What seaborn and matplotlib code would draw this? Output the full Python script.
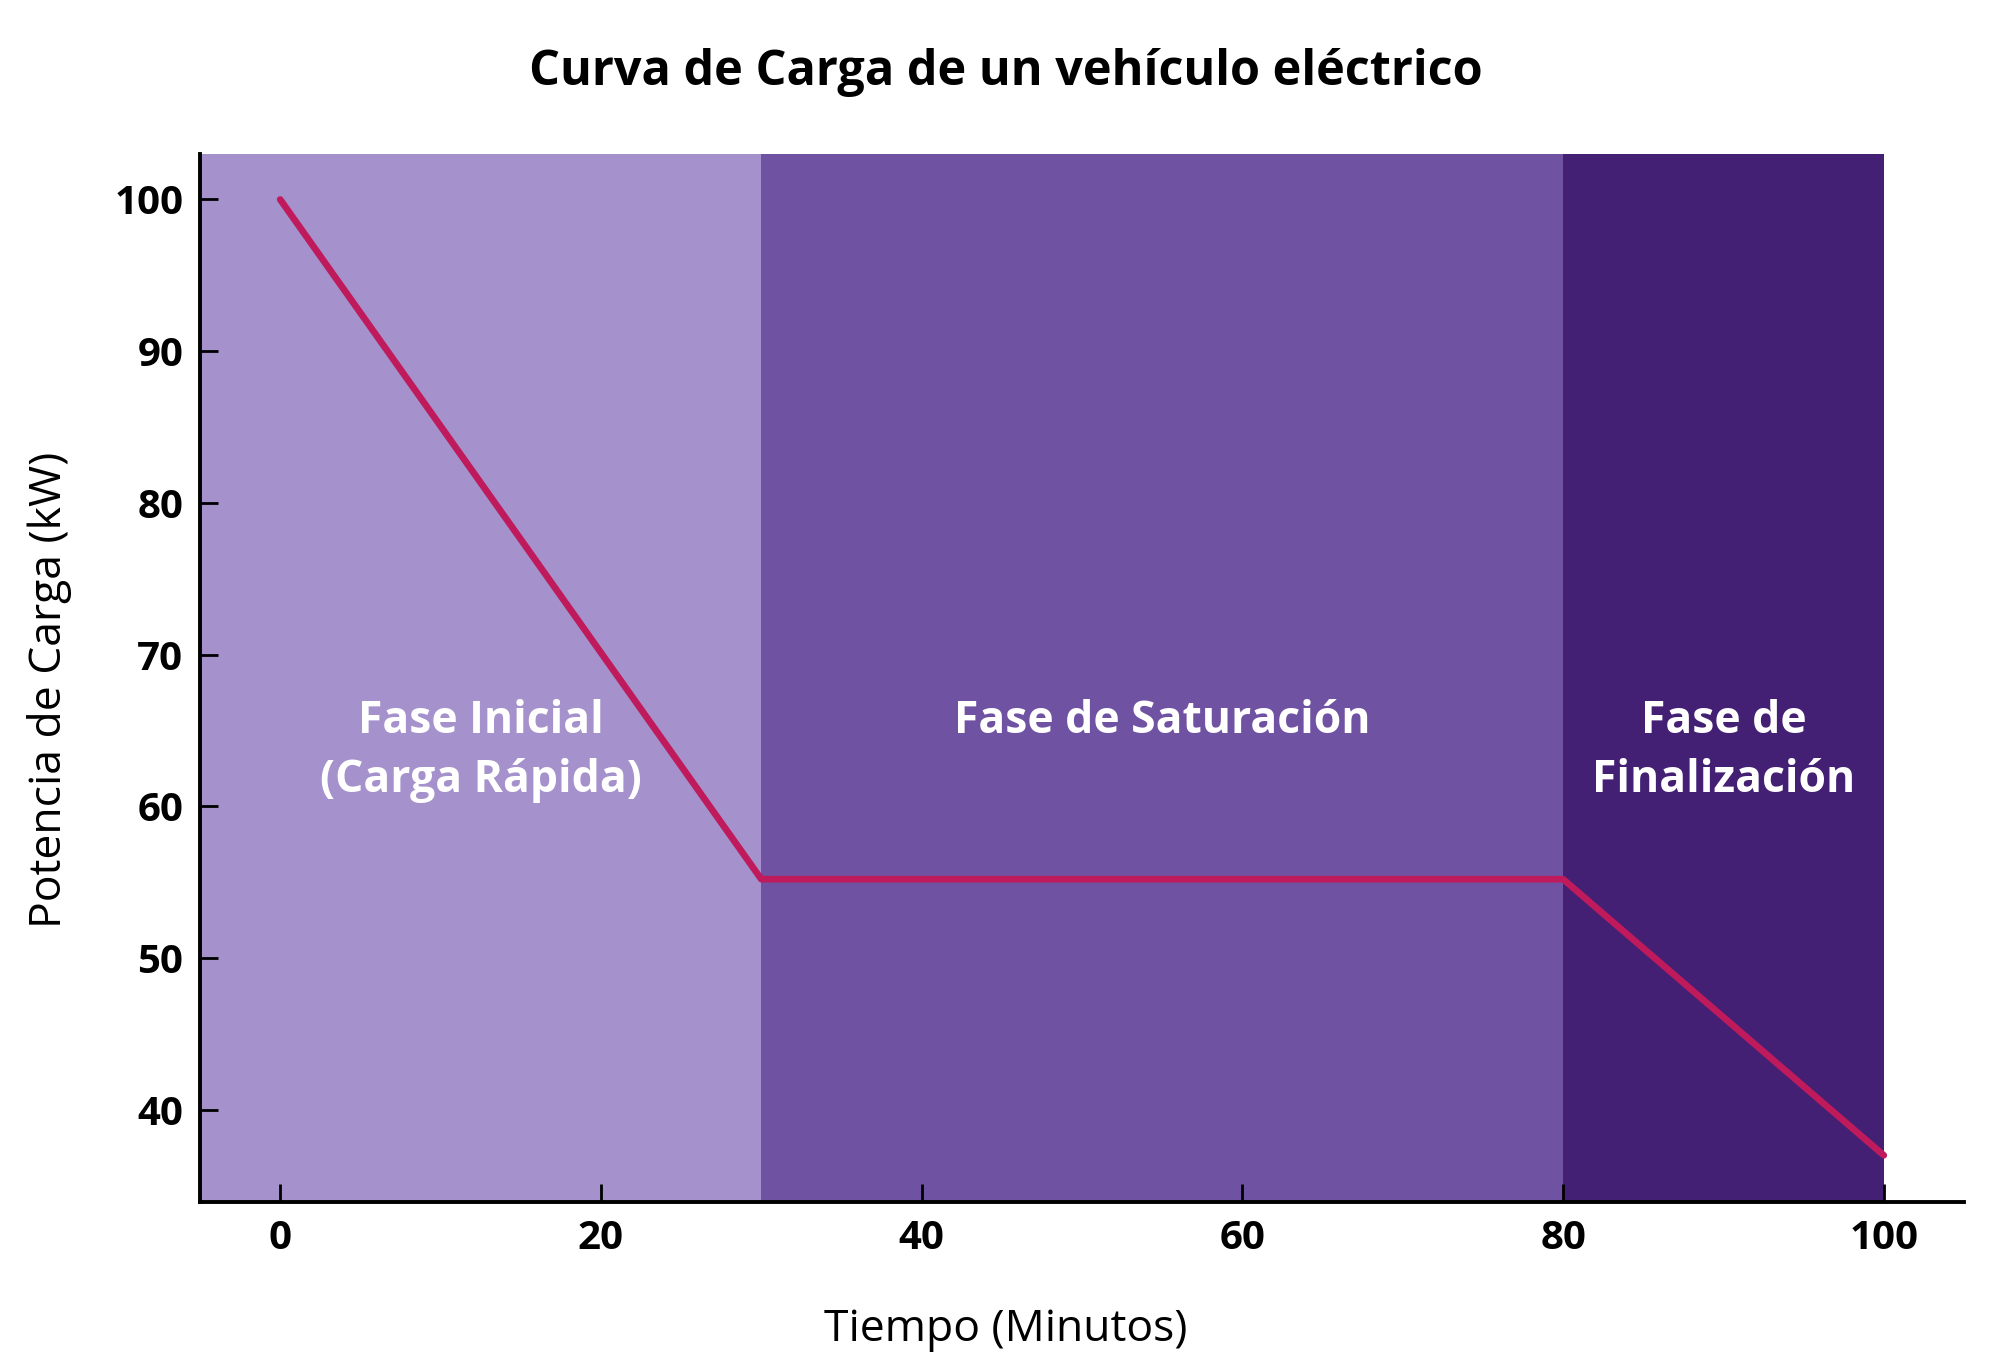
import pandas as pd
import seaborn as sns
import matplotlib.pyplot as plt

# Data
tiempo = [0, 30, 80, 100]
potencia = [100, 55.2, 55.2, 37.0]

fase_limites = [(-5, 30), (30, 80), (80, 100)]
fase_colores = ['#A591CB', '#7052A3', '#432074']
fase_textos = ['Fase Inicial\n(Carga Rápida)', 'Fase de Saturación', 'Fase de\nFinalización']

df = pd.DataFrame({'Tiempo': tiempo, 'Potencia': potencia})

sns.set_theme(style='ticks')
plt.rcParams['font.family'] = ['Open Sans', 'DejaVu Sans']
plt.rcParams['text.color'] = 'black'
plt.rcParams['axes.labelcolor'] = 'black'

fig, ax = plt.subplots(figsize=(20, 13.71), dpi=100)
fig.subplots_adjust(left=0.1, right=0.982, top=0.8877, bottom=0.123)

# Shaded phases
for (x0, x1), color, texto in zip(fase_limites, fase_colores, fase_textos):
    ax.axvspan(x0, x1, color=color, lw=0, zorder=0)
    ax.text((x0 + x1) / 2, 67.1, texto, ha='center', va='top', color='white',
            fontsize=32, fontweight='bold', linespacing=1.42)

sns.lineplot(data=df, x='Tiempo', y='Potencia', ax=ax, color='#BF1A5C', lw=4.8, zorder=3)

ax.set_xlim(-5, 105)
ax.set_ylim(33.9, 103.0)
ax.set_xticks([0, 20, 40, 60, 80, 100])
ax.set_yticks([40, 50, 60, 70, 80, 90, 100])

sns.despine(ax=ax)
for s in ['left', 'bottom']:
    ax.spines[s].set_linewidth(2.8)
    ax.spines[s].set_color('black')
ax.tick_params(direction='in', length=13, width=2, colors='black', labelsize=29)
ax.tick_params(axis='x', pad=12)
ax.tick_params(axis='y', pad=12)
for lbl in ax.get_xticklabels() + ax.get_yticklabels():
    lbl.set_fontweight('bold')

ax.set_xlabel('Tiempo (Minutos)', fontsize=32)
ax.set_ylabel('Potencia de Carga (kW)', fontsize=32)
ax.xaxis.set_label_coords(0.503, 0.046, transform=fig.transFigure)
ax.yaxis.set_label_coords(0.036, 0.497, transform=fig.transFigure)
fig.suptitle('Curva de Carga de un vehículo eléctrico', fontsize=35, fontweight='bold',
             x=0.503, y=0.947, va='center')

fig.savefig('out.png', dpi=100)
